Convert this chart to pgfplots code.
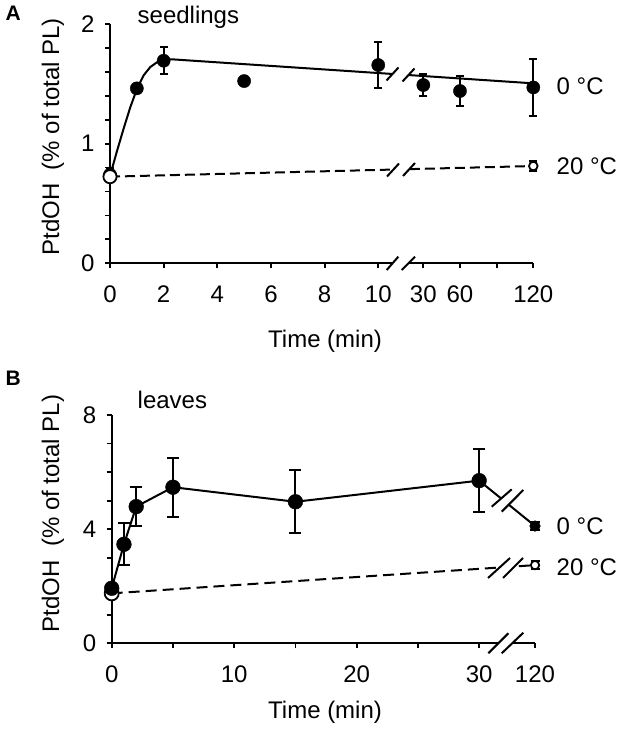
\documentclass[border=0pt]{standalone}
\usepackage{pgfplots}
\pgfplotsset{compat=1.18}
\usepackage{fontspec}
\setmainfont{Liberation Sans}
\newcommand\lab{\fontsize{24}{28}\selectfont}
\newcommand\brk[8]{%
  \fill[white] (#1pt,-#2pt) -- (#5pt,-#6pt) -- (#7pt,-#8pt) -- (#3pt,-#4pt) -- cycle;
  \draw[line width=2pt] (#1pt,-#2pt) -- (#3pt,-#4pt);
  \draw[line width=2pt] (#5pt,-#6pt) -- (#7pt,-#8pt);}
\pgfplotsset{
  common/.style={
    scale only axis, anchor=south west, clip=false,
    axis x line*=bottom, axis y line*=left,
    axis line style={line width=2.2pt,-},
    tick style={line width=1.8pt,black},
    major tick length=5pt, minor tick length=5pt,
    tick align=outside,
    ticklabel style={font=\lab},
    xticklabel style={yshift=-14pt},
    yticklabel style={xshift=-7pt},
    label style={font=\lab},
  }
}
\begin{document}
\begin{tikzpicture}
% ---------------- Panel A ----------------
\begin{axis}[common,
  at={(110pt,-263.3pt)}, width=423.3pt, height=239.3pt,
  xmin=0, xmax=15.78, ymin=0, ymax=2,
  xtick={0,2,4,6,8,10,11.68,13.047,14.414,15.78},
  xticklabels={0,2,4,6,8,10,30,60,,120},
  ytick={0,1,2}, yticklabels={0,1,2},
  minor ytick={0.2,0.4,0.6,0.8,1.2,1.4,1.6,1.8},
  xlabel={Time (min)},
  xlabel style={at={(axis description cs:0.508,-0.324)}, anchor=center},
  ylabel={PtdOH\ \ (\% of total PL)},
  ylabel style={at={(axis description cs:-0.1347,0.528)}, anchor=center},
]
% fitted curve 0 C
\addplot[line width=2pt, black] coordinates {
 (0,0.73) (0.25,0.93) (0.5,1.12) (0.75,1.30) (1,1.455) (1.25,1.57)
 (1.5,1.64) (1.75,1.68) (2,1.70) (2.3,1.705) (15.78,1.504)};
% 20 C dashed line
\addplot[line width=2pt, black, dash pattern=on 10pt off 5pt] coordinates {
 (0,0.724) (15.78,0.813)};
% 0 C data
\addplot[only marks, mark=*, mark size=6.6pt, black,
  error bars/.cd, y dir=both, y explicit,
  error bar style={line width=2pt},
  error mark options={rotate=90, mark size=4pt, line width=2pt}]
 coordinates {
 (0,0.74) +- (0,0.06)
 (1,1.462) +- (0,0.03)
 (2,1.693) +- (0,0.115)
 (5,1.523) +- (0,0.03)
 (10,1.657) +- (0,0.19)
 (11.68,1.49) +- (0,0.093)
 (13.047,1.44) +- (0,0.125)
 (15.78,1.47) +- (0,0.237)};
% 20 C data
\addplot[only marks, mark=*, mark size=6.6pt, mark options={fill=white, draw=black, line width=1.8pt}]
 coordinates {(0,0.724)};
\addplot[only marks, mark=*, mark size=4.3pt, mark options={fill=white, draw=black, line width=1.8pt},
  error bars/.cd, y dir=both, y explicit,
  error bar style={line width=1.8pt},
  error mark options={rotate=90, mark size=4pt, line width=1.8pt}]
 coordinates {(15.78,0.813) +- (0,0.04)};
\end{axis}
% ---------------- Panel B ----------------
\begin{axis}[common,
  at={(111.7pt,-643.3pt)}, width=423.3pt, height=228.3pt,
  xmin=0, xmax=34.56, ymin=0, ymax=8,
  xtick={0,10,20,30,34.56},
  xticklabels={0,10,20,30,120},
  minor xtick={5,15,25},
  ytick={0,4,8}, yticklabels={0,4,8},
  minor ytick={1,2,3,5,6,7},
  xlabel={Time (min)},
  xlabel style={at={(axis description cs:0.504,-0.300)}, anchor=center},
  ylabel={PtdOH\ \ (\% of total PL)},
  ylabel style={at={(axis description cs:-0.1387,0.5686)}, anchor=center},
]
\addplot[line width=2pt, black, dash pattern=on 11pt off 6pt] coordinates {
 (0,1.75) (34.56,2.74)};
\addplot[only marks, mark=*, mark size=7pt, mark options={fill=white, draw=black, line width=1.8pt}]
 coordinates {(0,1.75)};
\addplot[only marks, mark=*, mark size=4.2pt, mark options={fill=white, draw=black, line width=1.8pt},
  error bars/.cd, y dir=both, y explicit,
  error bar style={line width=1.8pt},
  error mark options={rotate=90, mark size=4.5pt, line width=1.8pt}]
 coordinates {(34.56,2.74) +- (0,0.15)};
% 0 C line
\addplot[line width=2pt, black] coordinates {
 (0,1.93) (1,3.47) (2,4.79) (5,5.47) (15,4.96) (30,5.70) (34.56,4.11)};
% 0 C marks
\addplot[only marks, mark=*, mark size=7.4pt, black,
  error bars/.cd, y dir=both, y explicit,
  error bar style={line width=2pt},
  error mark options={rotate=90, mark size=6pt, line width=2pt}]
 coordinates {
 (0,1.93) +- (0,0.05)
 (1,3.47) +- (0,0.74)
 (2,4.79) +- (0,0.68)
 (5,5.47) +- (0,1.03)
 (15,4.96) +- (0,1.1)
 (30,5.70) +- (0,1.1)};
\addplot[only marks, mark=*, mark size=5.3pt, black,
  error bars/.cd, y dir=both, y explicit,
  error bar style={line width=2pt},
  error mark options={rotate=90, mark size=5pt, line width=2pt}]
 coordinates {(34.56,4.11) +- (0,0.15)};
\end{axis}
% ---------------- break marks ----------------
\brk{386.7}{270}{398.3}{256.7}{401.7}{270}{415}{256.7}
\brk{386.5}{80.5}{398.5}{67.5}{402.5}{81.5}{414.5}{68.5}
\brk{387}{176.5}{399}{163.5}{403}{176}{415}{163}
\brk{488.3}{653.3}{508.3}{633.3}{501.7}{653.3}{523.3}{632.7}
\brk{491.7}{506.7}{511.7}{489.3}{501.7}{511.7}{523.3}{490}
\brk{488}{578}{510}{558}{503}{578}{523}{558}
% ---------------- texts ----------------
\node[anchor=base west, inner sep=0pt, font=\fontsize{21}{23}\selectfont\bfseries] at (5.5pt,-21pt) {A};
\node[anchor=base west, inner sep=0pt, font=\fontsize{21}{23}\selectfont\bfseries] at (5.5pt,-385.5pt) {B};
\node[anchor=base west, inner sep=0pt, font=\lab] at (137.5pt,-23.3pt) {seedlings};
\node[anchor=base west, inner sep=0pt, font=\lab] at (137.5pt,-408pt) {leaves};
\node[anchor=base west, inner sep=0pt, font=\lab] at (556.5pt,-95pt) {0 °C};
\node[anchor=base west, inner sep=0pt, font=\lab] at (556.5pt,-175pt) {20 °C};
\node[anchor=base west, inner sep=0pt, font=\lab] at (556.5pt,-534pt) {0 °C};
\node[anchor=base west, inner sep=0pt, font=\lab] at (556.5pt,-575pt) {20 °C};
\pgfresetboundingbox
\path[use as bounding box] (0pt,0pt) rectangle (630pt,-738pt);
\end{tikzpicture}
\end{document}
